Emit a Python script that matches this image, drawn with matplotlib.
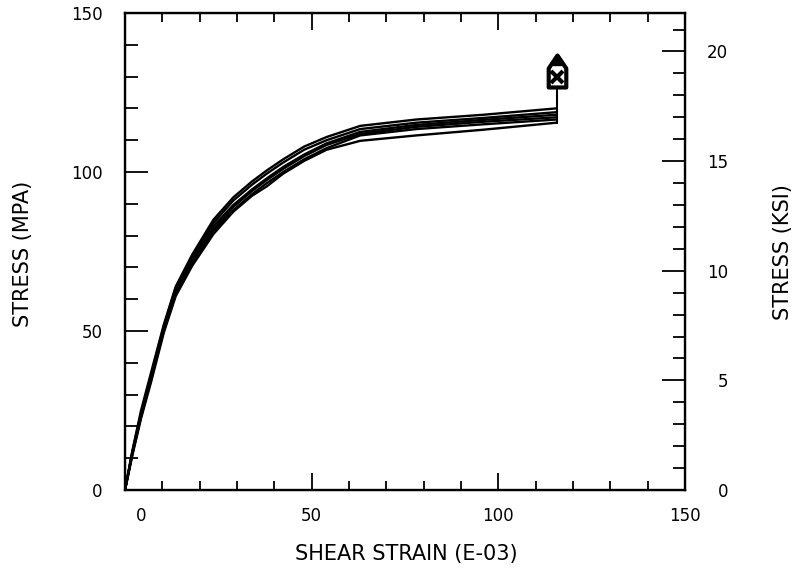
import matplotlib
matplotlib.use("Agg")
import matplotlib.pyplot as plt
import matplotlib.transforms as mtransforms
from matplotlib.ticker import MultipleLocator
from matplotlib.path import Path

# shear strain (E-03) sample points shared by all curves
strain = [0, 2, 4.3, 7, 10.4, 13.6, 18, 23.7, 29, 34, 38, 42.4, 48, 54, 63, 78, 96, 115.5]

# stress (MPa), one list per specimen
stress_1 = [0, 12.5, 25, 37, 52, 64, 74, 85, 92, 97, 100.5, 104, 108, 111, 114.5, 116.5, 118, 120]
stress_2 = [0, 12, 24, 36, 51.5, 63.5, 73, 84, 91, 96, 99.5, 103, 107, 110, 113.5, 115.5, 117, 118.8]
stress_3 = [0, 12, 24, 35.5, 51, 63, 72, 83, 89.6, 94.5, 98, 101.6, 105.5, 109, 112.6, 114.8, 116.4, 118]
stress_4 = [0, 11.5, 23.5, 35, 50.5, 62.5, 71.5, 82, 89, 94, 97.5, 101, 105, 108.5, 112, 114.2, 115.8, 117.2]
stress_5 = [0, 11.5, 23, 35, 50, 62, 71, 81.5, 88, 93, 96.5, 100, 104, 107.5, 111.5, 113.5, 115, 116.5]
stress_6 = [0, 11, 22.5, 34, 49.5, 61, 70.5, 80.5, 87.5, 92.5, 95.5, 99.5, 103.5, 107, 109.8, 111.5, 113.3, 115.5]
all_stress = [stress_1, stress_2, stress_3, stress_4, stress_5, stress_6]

# failure marker
fail_strain = 115.8
fail_stress = 131.8

MPA_PER_KSI = 6.894757

fig = plt.figure(figsize=(7.94, 5.75), dpi=100)
ax = fig.add_axes([0.1574, 0.1478, 0.7053, 0.8296])

for s in all_stress:
    ax.plot(strain, s, color="black", lw=1.7, solid_joinstyle="round")

# vertical line up to the failure marker
ax.plot([fail_strain, fail_strain], [min(s[-1] for s in all_stress), fail_stress - 5], color="black", lw=1.5)

house = Path([(-0.55, -1), (0.55, -1), (0.55, 0.19), (0, 1), (-0.55, 0.19), (-0.55, -1)],
             [Path.MOVETO, Path.LINETO, Path.LINETO, Path.LINETO, Path.LINETO, Path.CLOSEPOLY])
ax.plot([fail_strain], [fail_stress], marker=house, ms=23, mfc="white", mec="black", mew=3)
ax.plot([fail_strain], [fail_stress - 1.8], marker="x", ms=8, mec="black", mew=3)
ax.plot([fail_strain], [fail_stress + 3.0], marker="^", ms=6, mfc="black", mec="black")

ax.set_xlim(0, 150)
ax.set_ylim(0, 150)
ax.xaxis.set_major_locator(MultipleLocator(50))
ax.xaxis.set_minor_locator(MultipleLocator(10))
ax.yaxis.set_major_locator(MultipleLocator(50))
ax.yaxis.set_minor_locator(MultipleLocator(10))

ax.tick_params(axis="x", which="both", direction="in", top=True, bottom=True, width=1.3,
               labelsize=12, pad=12)
ax.tick_params(axis="x", which="major", length=12)
ax.tick_params(axis="x", which="minor", length=6.5)
ax.tick_params(axis="y", which="both", direction="in", left=True, right=False, width=1.3,
               labelsize=12, pad=16)
ax.tick_params(axis="y", which="major", length=16.5)
ax.tick_params(axis="y", which="minor", length=9.4)
for sp in ax.spines.values():
    sp.set_linewidth(1.7)

ax2 = ax.twinx()
ax2.set_ylim(0, 150 / MPA_PER_KSI)
ax2.yaxis.set_major_locator(MultipleLocator(5))
ax2.yaxis.set_minor_locator(MultipleLocator(1))
ax2.tick_params(axis="y", which="both", direction="in", width=1.3, labelsize=12, pad=31)
ax2.tick_params(axis="y", which="major", length=16.5)
ax2.tick_params(axis="y", which="minor", length=8.6)
for t in ax2.get_yticklabels():
    t.set_horizontalalignment("right")

fig.text(406 / 794, 1 - 554 / 575, "SHEAR STRAIN (E-03)", ha="center", va="center", fontsize=15)
fig.text(23 / 794, 1 - 254 / 575, "STRESS (MPA)", ha="center", va="center", rotation=90, fontsize=15)
fig.text(783 / 794, 1 - 252 / 575, "STRESS (KSI)", ha="center", va="center", rotation=90, fontsize=15)

# the "0" strain label sits right of the corner
fig.canvas.draw()
off = mtransforms.ScaledTranslation(0.16, 0, fig.dpi_scale_trans)
for tick in ax.xaxis.get_major_ticks():
    if abs(tick.get_loc()) < 1e-9:
        tick.label1.set_transform(tick.label1.get_transform() + off)

fig.savefig("out.png", dpi=100)
